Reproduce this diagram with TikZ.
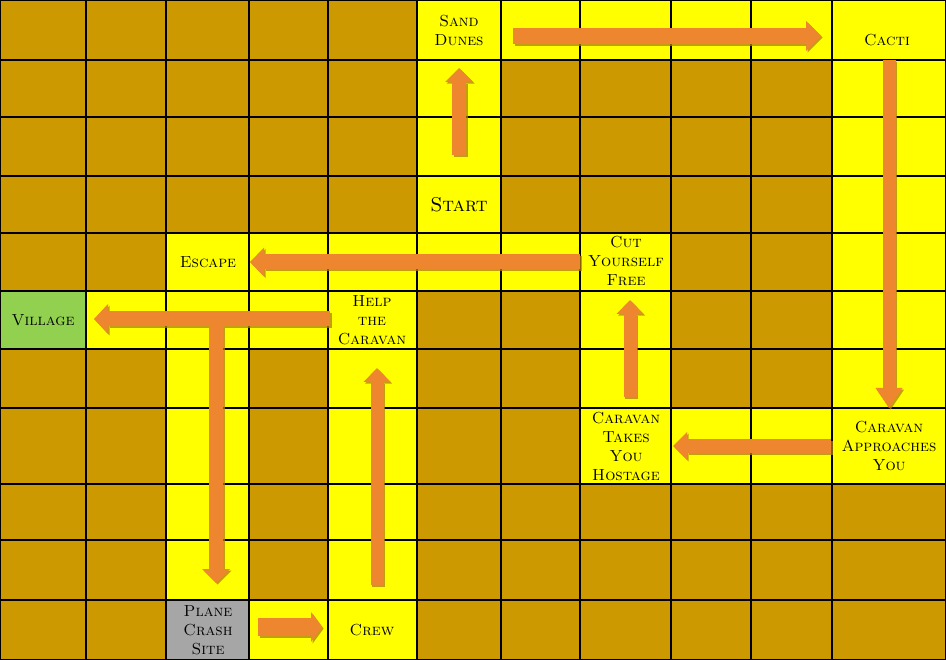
\documentclass[tikz,border=0pt]{standalone}
\usetikzlibrary{arrows.meta}
\definecolor{brownc}{RGB}{204,153,0}
\definecolor{yel}{RGB}{255,255,0}
\definecolor{grn}{RGB}{146,208,80}
\definecolor{gry}{RGB}{166,166,166}
\definecolor{arr}{RGB}{238,134,48}
\definecolor{arrsh}{RGB}{176,128,16}
\newcommand\flowarr[3][]{%
  \draw[flowsh,#1,transform canvas={shift={(1.6pt,-1.6pt)}}] (#2) -- (#3);
  \draw[flow,#1] (#2) -- (#3);}
\begin{document}
\begin{tikzpicture}[x=1pt,y=-1pt,
  lbl/.style={font=\fontsize{16}{19}\selectfont\scshape, align=center, inner sep=0pt, text=black},
  flow/.style={draw=arr, line width=14pt, -{Triangle[width=28pt,length=14pt,line width=0pt]}},
  flowsh/.style={draw=arrsh, opacity=0.75, line width=14pt, -{Triangle[width=28pt,length=14pt,line width=0pt]}},
  gridline/.style={draw=black, line width=1.1pt}]
\useasboundingbox (0,0) rectangle (946,660);
% background cells
\fill[brownc] (0,0) rectangle (946,660);
\fill[yel] (417,0) rectangle (946,60);
\fill[yel] (417,0) rectangle (501,233);
\fill[yel] (832,0) rectangle (946,484);
\fill[yel] (166,233) rectangle (671,291);
\fill[yel] (86,291) rectangle (417,349);
\fill[yel] (580,233) rectangle (671,484);
\fill[yel] (580,408) rectangle (946,484);
\fill[yel] (166,233) rectangle (249,660);
\fill[yel] (328,291) rectangle (417,660);
\fill[yel] (249,600) rectangle (328,660);
\fill[grn] (0,291) rectangle (86,349);
\fill[gry] (166,600) rectangle (249,660);
% grid
\foreach \gx in {86,249,328,417,501,580,671,751,832}
  \draw[gridline] (\gx,0) -- (\gx,660);
\draw[gridline, line width=2pt] (166,0) -- (166,660);
\foreach \gy in {60,117,176,233,291,349,408,484,540,600}
  \draw[gridline] (0,\gy) -- (946,\gy);
\draw[gridline] (0.6,0.6) rectangle (945.4,659.4);
% labels
\node[lbl] (sand) at (459,30) {Sand\\Dunes};
\node[lbl] (cacti) at (887,40) {Cacti};
\node[lbl, font=\fontsize{20}{22}\selectfont\scshape] (start) at (459,205) {Start};
\node[lbl] (escape) at (208,262) {Escape};
\node[lbl] (cut) at (626,261) {Cut\\Yourself\\Free};
\node[lbl] (village) at (43,320) {Village};
\node[lbl] (help) at (372,320) {Help\\the\\Caravan};
\node[lbl] (hostage) at (626,446) {Caravan\\Takes\\You\\Hostage};
\node[lbl] (approach) at (889,446) {Caravan\\Approaches\\You};
\node[lbl] (plane) at (208,630) {Plane\\Crash\\Site};
\node[lbl] (crew) at (372,630) {Crew};
% arrow end points
\coordinate (a1s) at (459,155); \coordinate (a1e) at (459,68);
\coordinate (a2s) at (513,36);  \coordinate (a2e) at (821,36);
\coordinate (a3s) at (889,60);  \coordinate (a3e) at (889,408);
\coordinate (a4s) at (831,446); \coordinate (a4e) at (673,446);
\coordinate (a5s) at (630,397); \coordinate (a5e) at (630,300);
\coordinate (a6s) at (580,262); \coordinate (a6e) at (250,262);
\coordinate (a7s) at (330,319); \coordinate (a7e) at (94,319);
\coordinate (a8s) at (216,326); \coordinate (a8e) at (216,583);
\coordinate (a9s) at (258,627); \coordinate (a9e) at (322,627);
\coordinate (a10s) at (377,585); \coordinate (a10e) at (377,368);
% arrows
\flowarr{a1s}{a1e}
\flowarr[line width=16pt, -{Triangle[width=30pt,length=15pt,line width=0pt]}]{a2s}{a2e}
\flowarr[line width=13pt, -{Triangle[width=27pt,length=20pt,line width=0pt]}]{a3s}{a3e}
\flowarr{a4s}{a4e}
\flowarr[line width=13pt, -{Triangle[width=27pt,length=14pt,line width=0pt]}]{a5s}{a5e}
\flowarr[line width=15pt, -{Triangle[width=29pt,length=14pt,line width=0pt]}]{a6s}{a6e}
\flowarr[line width=15pt, -{Triangle[width=30pt,length=14pt,line width=0pt]}]{a7s}{a7e}
\flowarr{a8s}{a8e}
\flowarr[line width=18pt, -{Triangle[width=30pt,length=11pt,line width=0pt]}]{a9s}{a9e}
\flowarr[line width=13pt, -{Triangle[width=27pt,length=14pt,line width=0pt]}]{a10s}{a10e}
\end{tikzpicture}
\end{document}
